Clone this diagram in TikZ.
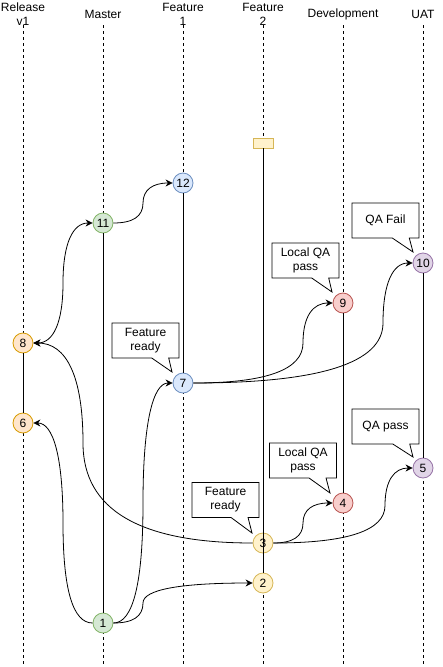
\documentclass[tikz,border=0pt]{standalone}
\usepackage{fontspec}
\setmainfont{Liberation Sans}
\usetikzlibrary{arrows.meta,calc,shapes.callouts}
\definecolor{node_green}{HTML}{D5E8D4}
\definecolor{edge_green}{HTML}{82B366}
\definecolor{node_yellow}{HTML}{FFF2CC}
\definecolor{edge_yellow}{HTML}{D6B656}
\definecolor{node_red}{HTML}{F8CECC}
\definecolor{edge_red}{HTML}{B85450}
\definecolor{node_purple}{HTML}{E1D5E7}
\definecolor{edge_purple}{HTML}{9673A6}
\definecolor{node_blue}{HTML}{DAE8FC}
\definecolor{edge_blue}{HTML}{6C8EBF}
\definecolor{node_orange}{HTML}{FFE6CC}
\definecolor{edge_orange}{HTML}{D79B00}
\tikzset{link/.style={->, to path={let \p1=(\tikztostart), \p2=(\tikztotarget) in
    .. controls ({(\x1+2*#1pt)/3},\y1) and (#1pt,{(5*\y1+\y2)/6}) .. (#1pt,{(\y1+\y2)/2})
    .. controls (#1pt,{(\y1+5*\y2)/6}) and ({(\x2+2*#1pt)/3},\y2) .. (\tikztotarget)}}}

\begin{document}
\begin{tikzpicture}[x=1pt,y=-1pt,thick,>={Stealth[length=7pt,width=7pt]},
    font=\fontsize{12pt}{14pt}\selectfont]
    \tikzstyle{commit}=[draw, circle, minimum size=20pt, inner sep=0pt, text=black]
    \tikzstyle{gn}=[style=commit,fill=node_green,draw=edge_green]
    \tikzstyle{yl}=[style=commit,fill=node_yellow,draw=edge_yellow]
    \tikzstyle{rd}=[style=commit,fill=node_red,draw=edge_red]
    \tikzstyle{pu}=[style=commit,fill=node_purple,draw=edge_purple]
    \tikzstyle{bl}=[style=commit,fill=node_blue,draw=edge_blue]
    \tikzstyle{og}=[style=commit,fill=node_orange,draw=edge_orange]
    \tikzstyle{tag}=[draw=edge_yellow, fill=node_yellow, minimum width=20pt, minimum height=10pt, inner sep=0pt]
    \tikzstyle{lifeline}=[dash pattern=on 3pt off 3pt]
    \tikzstyle{remark}=[rectangle callout, draw, fill=white, minimum width=67pt, minimum height=35pt,
        inner sep=0pt, align=center, callout pointer width=17pt]

    \useasboundingbox (0,0) rectangle (443,667);

    % branch headers
    \node (hrel) at (23,14) [align=center] {Release\\v1};
    \node (hmst) at (103,14) {Master};
    \node (hfa)  at (183,14) [align=center] {Feature\\1};
    \node (hfb)  at (263,14) [align=center] {Feature\\2};
    \node (hdev) at (343,14) {Development};
    \node (huat) at (423,14) {UAT};

    % lifelines
    \foreach \x/\n in {23/rel,103/mst,183/fa,263/fb,343/dev,423/uat} {
        \coordinate (\n-top) at (\x,25);
        \coordinate (\n-bot) at (\x,667);
        \draw[lifeline] (\n-top) -- (\n-bot);
    }

    % commits
    \node[gn] (n1)  at (103,623) {1};
    \node[yl] (n2)  at (263,583) {2};
    \node[yl] (n3)  at (263,543) {3};
    \node[rd] (n4)  at (343,503) {4};
    \node[pu] (n5)  at (423,468) {5};
    \node[og] (n6)  at (23,423)  {6};
    \node[bl] (n7)  at (183,383) {7};
    \node[og] (n8)  at (23,343)  {8};
    \node[rd] (n9)  at (343,303) {9};
    \node[pu] (n10) at (423,263) {10};
    \node[gn] (n11) at (103,223) {11};
    \node[bl] (n12) at (183,183) {12};
    \node[tag] (f2tag) at (263,143) {};

    \path
     (n11) edge (n1)
     (n12) edge (n7)
     (f2tag) edge (n2)
     (n9) edge (n4)
     (n10) edge (n5)
     (n8) edge (n6)
     ;

    \path
     (n1.east) edge[link=143] (n2.west)
     (n1.east) edge[link=143] (n7.west)
     (n1.west) edge[link=63] (n6.east)
     (n3.east) edge[link=303] (n4.west)
     (n3.east) edge[link=385] (n5.west)
     (n3.west) edge[link=83] (n8.east)
     (n7.east) edge[link=303] (n9.west)
     (n7.east) edge[link=383] (n10.west)
     (n8.east) edge[link=63, <->] (n11.west)
     (n11.east) edge[link=143] (n12.west)
     ;

    % notes
    \node[remark, callout absolute pointer={(252,533)}] (c3)  at (225.5,500)   {Feature\\ready};
    \node[remark, callout absolute pointer={(330,493)}] (c4)  at (303,460.5)   {Local QA\\pass};
    \node[remark, callout absolute pointer={(413,457)}] (c5)  at (385.5,426.5) {QA pass};
    \node[remark, callout absolute pointer={(172,372)}] (c7)  at (145.5,340.5) {Feature\\ready};
    \node[remark, callout absolute pointer={(332,292)}] (c9)  at (305.5,260.5) {Local QA\\pass};
    \node[remark, callout absolute pointer={(413,252)}] (c10) at (385.5,220.5) {QA Fail};
\end{tikzpicture}
\end{document}
